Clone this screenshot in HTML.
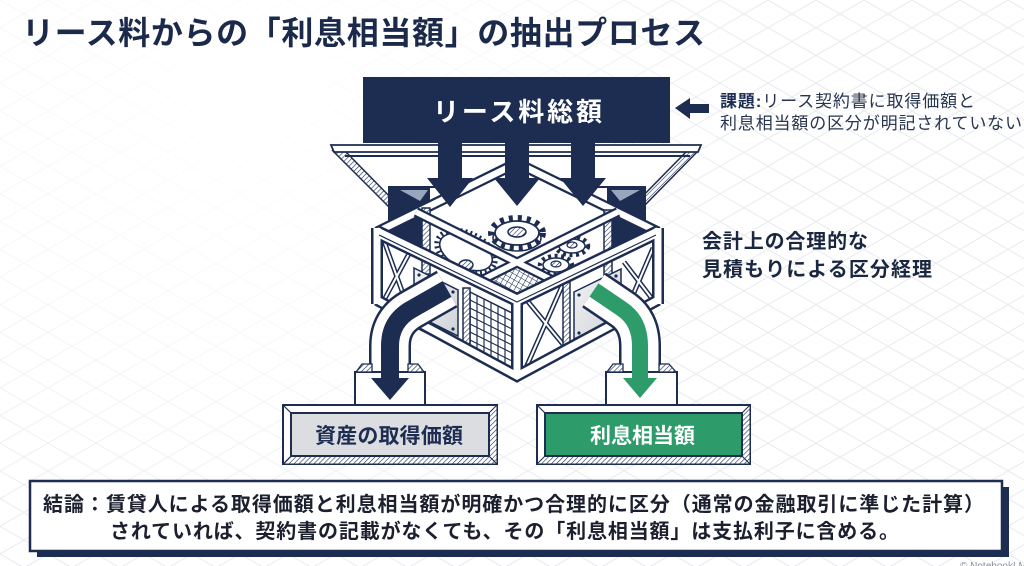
<!DOCTYPE html>
<html><head><meta charset="utf-8">
<style>
html,body{margin:0;padding:0;background:#fff;}
svg{display:block;}
text{font-family:"Liberation Sans","Noto Sans CJK JP",sans-serif;}
</style></head><body>
<svg width="1024" height="566" viewBox="0 0 1024 566" xmlns="http://www.w3.org/2000/svg">
<defs>
<pattern id="bg" width="48" height="27.7" patternUnits="userSpaceOnUse">
 <path d="M0 0 L48 27.7 M48 0 L0 27.7" stroke="#e8eaee" stroke-width="1" fill="none"/>
</pattern>
<radialGradient id="fade" cx="250" cy="90" r="520" gradientUnits="userSpaceOnUse">
 <stop offset="0" stop-color="#fff" stop-opacity="1"/>
 <stop offset="0.55" stop-color="#fff" stop-opacity="0.6"/>
 <stop offset="1" stop-color="#fff" stop-opacity="0"/>
</radialGradient>
<pattern id="hatch" width="3.5" height="3.5" patternUnits="userSpaceOnUse" patternTransform="rotate(45)">
 <rect width="3.5" height="3.5" fill="#fff"/>
 <line x1="0" y1="0" x2="0" y2="3.5" stroke="#1d2d52" stroke-width="1.2"/>
</pattern>
<pattern id="mesh" width="5" height="5" patternUnits="userSpaceOnUse" patternTransform="rotate(30)">
 <rect width="5" height="5" fill="#fff"/>
 <path d="M0 0 V5 M0 0 H5" stroke="#1d2d52" stroke-width="1.1"/>
</pattern>
<linearGradient id="plate" x1="0" y1="0" x2="1" y2="1">
 <stop offset="0" stop-color="#f2f3f5"/><stop offset="1" stop-color="#cfd2d7"/>
</linearGradient>
</defs>

<rect width="1024" height="566" fill="#fff"/>
<rect width="1024" height="566" fill="url(#bg)"/>
<rect width="1024" height="566" fill="url(#fade)"/>

<!-- Title -->
<text x="22" y="44" font-size="32" font-weight="700" fill="#1b2a4b" textLength="683" lengthAdjust="spacing">リース料からの「利息相当額」の抽出プロセス</text>

<!-- Hopper -->
<polygon points="333,150 698,150 643,205 388,205" fill="#fff"/>
<polygon points="333,151 345,151 397,204 388,206" fill="url(#hatch)" stroke="#1d2d52" stroke-width="1.5"/>
<polygon points="698,151 687,151 635,204 644,206" fill="url(#hatch)" stroke="#1d2d52" stroke-width="1.5"/>
<polygon points="331,145 701,145 698,152 334,152" fill="#fff" stroke="#1d2d52" stroke-width="1.8"/>
<line x1="345" y1="156" x2="690" y2="156" stroke="#1d2d52" stroke-width="2"/>
<line x1="388" y1="187" x2="646" y2="187" stroke="#1d2d52" stroke-width="2"/>

<!-- Navy back panels -->
<polygon points="388,187 430,187 430,272 388,252" fill="#1d2d52"/>
<polygon points="400,190 428,190 420,201" fill="#9aa6bd"/>
<polygon points="607,187 646,187 646,238 607,256" fill="#1d2d52"/>
<polygon points="611,190 640,190 620,201" fill="#9aa6bd"/>

<!-- Box interior -->
<polygon points="430,205 517,170 607,205 607,256 658,232 658,300 517,376 377,300 377,232 430,252" fill="#fff"/>

<!-- Back edges -->
<path d="M377 232 L517 163 L658 232" stroke="#1d2d52" stroke-width="11" fill="none"/>
<path d="M377 232 L517 163 L658 232" stroke="#fff" stroke-width="6.5" fill="none"/>
<rect x="422" y="208" width="8" height="66" fill="url(#hatch)" stroke="#1d2d52" stroke-width="1.5"/>
<rect x="604" y="210" width="8" height="76" fill="url(#hatch)" stroke="#1d2d52" stroke-width="1.5"/>

<!-- Gears -->
<g transform="rotate(25 466 252)">
 <ellipse cx="466" cy="252" rx="31" ry="19" fill="none" stroke="#1d2d52" stroke-width="5" stroke-dasharray="2 3"/>
 <ellipse cx="466" cy="252" rx="28" ry="16" fill="#fff" stroke="#1d2d52" stroke-width="1.6"/>
</g>
<ellipse cx="466" cy="265" rx="7" ry="5" fill="url(#hatch)" stroke="#1d2d52" stroke-width="1.4"/>

<ellipse cx="517" cy="238" rx="24" ry="13" fill="#fff" stroke="#1d2d52" stroke-width="1.5"/>
<ellipse cx="517" cy="233" rx="26" ry="15" fill="none" stroke="#1d2d52" stroke-width="6" stroke-dasharray="4 5"/>
<ellipse cx="517" cy="233" rx="22" ry="12" fill="#fff" stroke="#1d2d52" stroke-width="1.8"/>
<ellipse cx="517" cy="232" rx="9" ry="5" fill="url(#hatch)" stroke="#1d2d52" stroke-width="1.5"/>

<ellipse cx="572" cy="246" rx="16" ry="9" fill="none" stroke="#1d2d52" stroke-width="4.5" stroke-dasharray="3 3.5"/>
<ellipse cx="572" cy="246" rx="13" ry="7" fill="#fff" stroke="#1d2d52" stroke-width="1.5"/>
<ellipse cx="572" cy="245" rx="5" ry="3" fill="url(#hatch)" stroke="#1d2d52" stroke-width="1.2"/>
<ellipse cx="556" cy="265" rx="16" ry="9" fill="none" stroke="#1d2d52" stroke-width="4.5" stroke-dasharray="3 3.5"/>
<ellipse cx="556" cy="265" rx="13" ry="7" fill="#fff" stroke="#1d2d52" stroke-width="1.5"/>
<ellipse cx="556" cy="264" rx="5" ry="3" fill="url(#hatch)" stroke="#1d2d52" stroke-width="1.2"/>

<!-- Top box + arrows -->
<rect x="363" y="77" width="307" height="66" fill="#1d2d52"/>
<polygon points="438,140 462,140 462,178 473,178 450,207 427,178 438,178" fill="#1d2d52"/>
<polygon points="505,140 529,140 529,178 540,178 517,206 494,178 505,178" fill="#1d2d52"/>
<polygon points="571,140 595,140 595,178 606,178 583,206 560,178 571,178" fill="#1d2d52"/>
<text x="433" y="121" font-size="26" font-weight="700" fill="#fff" textLength="169" lengthAdjust="spacing">リース料総額</text>

<!-- Mesh diamond on top -->
<polygon points="517,263 554,281 517,300 480,281" fill="url(#mesh)" stroke="#1d2d52" stroke-width="1.5"/>

<!-- Dividers -->
<path d="M416 212 L554 281 M618 212 L480 281" stroke="#1d2d52" stroke-width="10" fill="none"/>
<path d="M416 212 L554 281 M618 212 L480 281" stroke="#fff" stroke-width="5.5" fill="none"/>

<!-- Left face -->
<path d="M383 238 L411 316 M383 302 L411 250" stroke="#1d2d52" stroke-width="5" fill="none"/>
<path d="M383 238 L411 316 M383 302 L411 250" stroke="#fff" stroke-width="2" fill="none"/>
<path d="M420 326 L468 350" stroke="#1d2d52" stroke-width="8" fill="none"/>
<path d="M420 326 L468 350" stroke="#fff" stroke-width="4" fill="none"/>
<polygon points="414,268 458,290 458,336 414,314" fill="url(#plate)" stroke="#1d2d52" stroke-width="1.5"/>
<circle cx="419" cy="275" r="1.6" fill="#1d2d52"/><circle cx="453" cy="292" r="1.6" fill="#1d2d52"/>
<circle cx="453" cy="329" r="1.6" fill="#1d2d52"/><circle cx="419" cy="311" r="1.6" fill="#1d2d52"/>
<polygon points="470,292 512,313 512,370 470,349" fill="#fff" stroke="#1d2d52" stroke-width="1.5"/>
<g stroke="#1d2d52" stroke-width="1.2">
 <line x1="477" y1="295.5" x2="477" y2="352.5"/><line x1="484" y1="299" x2="484" y2="356"/>
 <line x1="491" y1="302.5" x2="491" y2="359.5"/><line x1="498" y1="306" x2="498" y2="363"/>
 <line x1="505" y1="309.5" x2="505" y2="366.5"/>
 <line x1="470" y1="300" x2="512" y2="321"/><line x1="470" y1="308" x2="512" y2="329"/>
 <line x1="470" y1="316" x2="512" y2="337"/><line x1="470" y1="324" x2="512" y2="345"/>
 <line x1="470" y1="332" x2="512" y2="353"/><line x1="470" y1="340" x2="512" y2="361"/>
</g>
<rect x="463" y="288" width="7" height="64" fill="url(#hatch)" stroke="#1d2d52" stroke-width="1.5"/>

<!-- Right face -->
<path d="M525 298 L566 348 M525 370 L566 277" stroke="#1d2d52" stroke-width="5" fill="none"/>
<path d="M525 298 L566 348 M525 370 L566 277" stroke="#fff" stroke-width="2" fill="none"/>
<path d="M624 262 L653 300 M624 316 L653 248" stroke="#1d2d52" stroke-width="5" fill="none"/>
<path d="M624 262 L653 300 M624 316 L653 248" stroke="#fff" stroke-width="2" fill="none"/>
<rect x="563" y="278" width="7" height="74" fill="url(#hatch)" stroke="#1d2d52" stroke-width="1.5"/>
<polygon points="574,292 621,269 621,316 574,339" fill="url(#plate)" stroke="#1d2d52" stroke-width="1.5"/>
<circle cx="579" cy="295" r="1.6" fill="#1d2d52"/><circle cx="616" cy="276" r="1.6" fill="#1d2d52"/>
<circle cx="579" cy="333" r="1.6" fill="#1d2d52"/><circle cx="616" cy="311" r="1.6" fill="#1d2d52"/>

<!-- Main frame front bars -->
<g fill="none">
 <path d="M377 228 L377 304 M517 300 L517 378 M658 228 L658 304" stroke="#1d2d52" stroke-width="12"/>
 <path d="M377 300 L517 376 L658 300" stroke="#1d2d52" stroke-width="12"/>
 <path d="M377 232 L517 300 L658 232" stroke="#1d2d52" stroke-width="14"/>
 <path d="M377 228 L377 304 M517 300 L517 378 M658 228 L658 304" stroke="#fff" stroke-width="7"/>
 <path d="M377 300 L517 376 L658 300" stroke="#fff" stroke-width="7"/>
 <path d="M377 232 L517 300 L658 232" stroke="#fff" stroke-width="9"/>
 <path d="M379 235 L517 302 L656 235" stroke="#1d2d52" stroke-width="1.2"/>
</g>

<!-- Pipes -->
<g fill="none">
 <path d="M447 289 L412 309 Q390 321 390 346 L390 376" stroke="#1d2d52" stroke-width="42"/>
 <path d="M447 289 L412 309 Q390 321 390 346 L390 376" stroke="#fff" stroke-width="37"/>
 <path d="M594 290 L622 309 Q640 321 640 346 L640 376" stroke="#1d2d52" stroke-width="42"/>
 <path d="M594 290 L622 309 Q640 321 640 346 L640 376" stroke="#fff" stroke-width="37"/>
</g>
<!-- attachment boxes -->
<rect x="355" y="372" width="70" height="34" fill="#fff" stroke="#1d2d52" stroke-width="2"/>
<polygon points="356,372 362,364 372,364 372,372" fill="url(#hatch)" stroke="#1d2d52" stroke-width="1.3"/>
<polygon points="408,372 408,364 418,364 424,372" fill="url(#hatch)" stroke="#1d2d52" stroke-width="1.3"/>
<rect x="606" y="372" width="71" height="34" fill="#fff" stroke="#1d2d52" stroke-width="2"/>
<polygon points="607,372 613,364 623,364 623,372" fill="url(#hatch)" stroke="#1d2d52" stroke-width="1.3"/>
<polygon points="659,372 659,364 669,364 676,372" fill="url(#hatch)" stroke="#1d2d52" stroke-width="1.3"/>

<path d="M447 289 L412 309 Q390 321 390 346 L390 380" stroke="#1d2d52" stroke-width="18" fill="none"/>
<polygon points="371,378 409,378 390,400" fill="#1d2d52"/>
<path d="M594 290 L622 309 Q640 321 640 346 L640 380" stroke="#2e9c6a" stroke-width="16" fill="none"/>
<polygon points="623,378 657,378 640,398" fill="#2e9c6a"/>

<!-- Label boxes -->
<rect x="283" y="405" width="214" height="59" fill="#fff" stroke="#1d2d52" stroke-width="2"/>
<polygon points="283,464 497,464 489,456 291,456" fill="url(#hatch)" stroke="#1d2d52" stroke-width="1"/>
<polygon points="497,405 497,464 489,456 489,413" fill="url(#hatch)" stroke="#1d2d52" stroke-width="1"/>
<line x1="283" y1="405" x2="291" y2="413" stroke="#1d2d52" stroke-width="1.2"/>
<rect x="291" y="413" width="198" height="43" fill="#dcdde0" stroke="#1d2d52" stroke-width="2"/>
<text x="315" y="443" font-size="21" font-weight="700" fill="#1d2d52" textLength="148" lengthAdjust="spacing">資産の取得価額</text>

<rect x="537" y="405" width="213" height="59" fill="#fff" stroke="#1d2d52" stroke-width="2"/>
<polygon points="537,464 750,464 742,456 545,456" fill="url(#hatch)" stroke="#1d2d52" stroke-width="1"/>
<polygon points="750,405 750,464 742,456 742,413" fill="url(#hatch)" stroke="#1d2d52" stroke-width="1"/>
<line x1="537" y1="405" x2="545" y2="413" stroke="#1d2d52" stroke-width="1.2"/>
<rect x="545" y="413" width="197" height="43" fill="#2e9c6a" stroke="#1d2d52" stroke-width="2"/>
<text x="590" y="443" font-size="21" font-weight="700" fill="#fff" textLength="105" lengthAdjust="spacing">利息相当額</text>

<!-- Issue note -->
<polygon points="675,108 690,98 690,104 709,104 709,113 690,113 690,119" fill="#1d2d52"/>
<text x="720" y="107" font-size="17" fill="#27354f" textLength="255" lengthAdjust="spacing"><tspan font-weight="700" fill="#1d2d52">課題:</tspan>リース契約書に取得価額と</text>
<text x="720" y="129" font-size="17" fill="#27354f" textLength="302" lengthAdjust="spacing">利息相当額の区分が明記されていない</text>

<!-- Side note -->
<text x="702" y="248" font-size="20" font-weight="700" fill="#1a2740" textLength="166" lengthAdjust="spacing">会計上の合理的な</text>
<text x="702" y="276" font-size="20" font-weight="700" fill="#1a2740" textLength="230" lengthAdjust="spacing">見積もりによる区分経理</text>

<!-- Conclusion -->
<rect x="37" y="487" width="972" height="70" fill="#1d2d52"/>
<rect x="30" y="481" width="972" height="70" fill="#fff" stroke="#1d2d52" stroke-width="2.5"/>
<text x="43" y="511" font-size="20" font-weight="700" fill="#1b1f2e" textLength="941" lengthAdjust="spacing">結論：賃貸人による取得価額と利息相当額が明確かつ合理的に区分（通常の金融取引に準じた計算）</text>
<text x="110" y="538" font-size="20" font-weight="700" fill="#1b1f2e" textLength="789" lengthAdjust="spacing">されていれば、契約書の記載がなくても、その「利息相当額」は支払利子に含める。</text>

<text x="960" y="569" font-size="10" fill="#8a8f99">© NotebookLM</text>
</svg>
</body></html>
